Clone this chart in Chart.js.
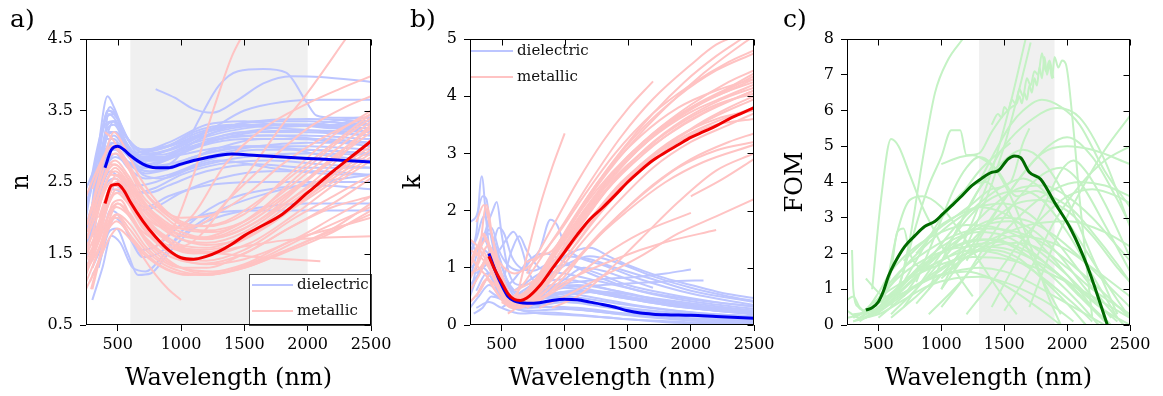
<!DOCTYPE html>
<html><head><meta charset="utf-8">
<script src="https://cdn.jsdelivr.net/npm/chart.js@4.4.1/dist/chart.umd.min.js"></script>
<style>
html,body{margin:0;padding:0;background:#fff;width:1163px;height:396px;overflow:hidden;position:relative}
canvas{position:absolute;top:0}
</style></head><body>
<canvas id="ca" width="400" height="396" style="left:0px;width:400px;height:396px"></canvas>
<canvas id="cb" width="390" height="396" style="left:390px;width:390px;height:396px"></canvas>
<canvas id="cc" width="383" height="396" style="left:780px;width:383px;height:396px"></canvas>
<script>
// ---------- tick values and labels ----------
const xTicks = [500, 1000, 1500, 2000, 2500];
const xTickLabels = ['500', '1000', '1500', '2000', '2500'];
const nTicks = [0.5, 1.5, 2.5, 3.5, 4.5];
const nTickLabels = ['0.5', '1.5', '2.5', '3.5', '4.5'];
const kTicks = [0, 1, 2, 3, 4, 5];
const kTickLabels = ['0', '1', '2', '3', '4', '5'];
const fomTicks = [0, 1, 2, 3, 4, 5, 6, 7, 8];
const fomTickLabels = ['0', '1', '2', '3', '4', '5', '6', '7', '8'];
const seriesNames = ['dielectric', 'metallic'];
const shadeA = [600, 2000];
const shadeC = [1300, 1900];

// ---------- panel a: refractive index n ----------
const nDielectric = [
 [[300,2.2],[350,3.0],[420,3.7],[470,3.55],[550,3.2],[650,2.95],[750,2.9],[900,2.95],[1100,3.1],[1400,3.25],[1800,3.3],[2200,3.25],[2500,3.2]],
 [[280,1.8],[350,2.8],[420,3.5],[480,3.45],[560,3.15],[700,2.85],[850,2.85],[1000,2.95],[1300,3.1],[1700,3.15],[2100,3.1],[2500,3.05]],
 [[250,2.0],[320,2.7],[400,3.3],[460,3.35],[550,3.1],[700,2.8],[850,2.8],[1100,3.0],[1500,3.2],[1900,3.2],[2500,3.15]],
 [[300,1.5],[370,2.6],[430,3.45],[490,3.35],[600,2.95],[750,2.8],[900,2.85],[1200,3.15],[1600,3.35],[2000,3.35],[2500,3.3]],
 [[250,1.4],[330,2.4],[410,3.1],[470,3.1],[560,2.9],[700,2.7],[850,2.7],[1100,2.85],[1500,3.0],[2000,2.95],[2500,2.9]],
 [[300,0.85],[380,1.3],[450,1.75],[520,1.65],[620,1.3],[720,1.25],[850,1.45],[1000,1.8],[1300,2.2],[1700,2.4],[2100,2.45],[2500,2.4]],
 [[250,1.5],[330,2.0],[420,2.5],[480,2.55],[600,2.35],[750,2.35],[900,2.45],[1200,2.65],[1600,2.75],[2000,2.7],[2500,2.7]],
 [[800,3.8],[950,3.68],[1100,3.52],[1250,3.47],[1450,3.65],[1650,3.88],[1870,3.98],[2100,3.97],[2500,3.9]],
 [[550,3.0],[700,2.78],[850,2.72],[1000,2.9],[1150,3.4],[1300,3.85],[1450,4.05],[1650,4.08],[1830,4.03],[1990,3.62],[2070,3.43],[2200,3.4],[2500,3.4]],
 [[300,2.1],[360,2.8],[420,3.3],[480,3.35],[580,3.0],[700,2.88],[850,2.92],[1000,3.0],[1250,3.25],[1500,3.5],[1800,3.62],[2100,3.65],[2500,3.65]],
 [[350,1.3],[420,1.8],[480,2.0],[560,1.85],[680,1.55],[800,1.6],[1000,1.9],[1200,2.05],[1600,2.1],[2000,2.1],[2500,2.1]],
 [[250,1.3],[320,1.6],[410,2.2],[480,2.45],[580,2.3],[720,2.15],[900,2.3],[1200,2.45],[1600,2.5],[2000,2.5],[2500,2.5]],
 [[270,1.7],[340,2.5],[420,3.25],[470,3.3],[560,3.05],[700,2.82],[900,2.85],[1200,3.05],[1600,3.2],[2000,3.22],[2500,3.2]],
 [[250,2.2],[330,2.6],[420,3.0],[480,3.05],[580,2.9],[720,2.72],[900,2.75],[1200,2.9],[1600,3.0],[2000,3.0],[2500,2.95]],
 [[300,1.3],[370,1.6],[440,2.1],[500,2.05],[600,1.7],[700,1.45],[820,1.5],[1000,1.75],[1300,2.1],[1700,2.35],[2100,2.5],[2500,2.6]],
 [[260,1.5],[330,2.3],[410,3.1],[470,3.35],[560,3.15],[700,2.9],[850,2.88],[1100,3.05],[1500,3.2],[1900,3.28],[2500,3.3]],
 [[400,2.8],[450,3.05],[520,3.0],[650,2.82],[800,2.8],[1000,2.88],[1300,2.98],[1700,3.0],[2100,2.88],[2500,2.8]],
 [[250,1.9],[330,2.35],[420,2.75],[480,2.85],[580,2.75],[720,2.62],[900,2.68],[1200,2.85],[1600,3.0],[2000,3.05],[2500,3.05]],
 [[300,1.2],[360,1.4],[430,1.8],[490,1.85],[580,1.5],[660,1.2],[760,1.22],[900,1.5],[1100,1.85],[1500,2.1],[2000,2.2],[2500,2.2]],
 [[250,2.4],[330,2.75],[420,3.15],[480,3.2],[570,3.0],[700,2.85],[900,2.95],[1200,3.2],[1600,3.35],[2000,3.38],[2500,3.35]],
 [[280,2.0],[350,2.6],[430,3.0],[500,2.95],[600,2.75],[750,2.65],[950,2.72],[1250,2.95],[1650,3.1],[2100,3.1],[2500,3.05]],
 [[260,1.6],[340,2.2],[440,2.65],[520,2.55],[650,2.35],[800,2.42],[1000,2.6],[1300,2.75],[1700,2.8],[2100,2.75],[2500,2.7]],
 [[300,2.5],[380,3.2],[440,3.55],[500,3.4],[600,3.05],[720,2.95],[900,3.05],[1200,3.3],[1500,3.35],[1800,3.3],[2200,3.3],[2350,3.35],[2500,3.3]],
 [[250,1.8],[320,2.3],[400,2.9],[470,3.15],[560,2.95],[700,2.6],[850,2.55],[1100,2.7],[1500,2.85],[2000,2.9],[2500,2.88]],
 [[500,2.6],[650,2.45],[800,2.5],[1000,2.65],[1300,2.8],[1700,2.7],[2100,2.62],[2500,2.6]],
 [[700,2.9],[900,3.0],[1100,3.2],[1400,3.3],[1800,3.25],[2200,3.2],[2500,3.15]],
 [[300,1.9],[370,2.7],[430,3.2],[490,3.2],[580,2.95],[700,2.8],[880,2.85],[1150,3.1],[1500,3.25],[1900,3.3],[2500,3.25]],
 [[260,1.7],[350,2.5],[430,3.0],[490,3.05],[590,2.85],[720,2.75],[900,2.82],[1200,3.05],[1550,3.15],[1950,3.15],[2500,3.1]],
 [[280,2.3],[360,3.1],[430,3.5],[490,3.4],[580,3.1],[700,2.95],[880,3.0],[1150,3.2],[1450,3.3],[1850,3.3],[2300,3.25],[2500,3.2]],
 [[250,1.6],[320,2.1],[410,2.7],[480,2.9],[580,2.7],[720,2.55],[900,2.6],[1200,2.8],[1600,2.95],[2000,2.95],[2500,2.9]],
 [[350,2.4],[420,2.9],[480,2.95],[570,2.8],[700,2.7],[880,2.8],[1150,3.0],[1500,3.1],[1900,3.1],[2500,3.0]],
 [[600,2.9],[800,2.95],[1000,3.05],[1300,3.25],[1700,3.3],[2100,3.3],[2500,3.25]],
 [[300,1.4],[380,1.9],[460,2.4],[530,2.35],[650,2.1],[800,2.15],[1000,2.35],[1300,2.55],[1700,2.65],[2100,2.65],[2500,2.6]],
 [[250,2.1],[330,2.9],[410,3.4],[470,3.45],[560,3.15],[700,2.95],[900,3.0],[1200,3.2],[1600,3.3],[2000,3.3],[2400,3.4],[2500,3.4]]
];
const nMetallic = [
 [[250,1.5],[320,1.9],[420,2.55],[480,2.7],[560,2.55],[700,2.15],[850,1.9],[1000,1.75],[1200,1.7],[1500,1.85],[1900,2.3],[2200,2.65],[2500,3.0]],
 [[250,1.2],[330,1.6],[420,2.15],[490,2.4],[580,2.3],[700,1.9],[850,1.6],[1000,1.45],[1200,1.4],[1500,1.55],[1900,2.0],[2200,2.3],[2500,2.6]],
 [[270,2.0],[340,2.4],[430,2.85],[490,2.9],[580,2.7],[700,2.3],[850,2.05],[1000,1.85],[1250,1.8],[1550,2.0],[1900,2.55],[2200,3.0],[2500,3.4]],
 [[290,1.0],[350,1.4],[430,1.95],[500,2.2],[600,2.05],[720,1.7],[850,1.48],[1000,1.3],[1200,1.22],[1500,1.3],[1900,1.6],[2200,1.85],[2500,2.2]],
 [[250,1.6],[330,1.85],[430,2.3],[490,2.5],[580,2.35],[700,2.0],[850,1.78],[1000,1.62],[1200,1.58],[1500,1.75],[1900,2.15],[2200,2.5],[2500,2.85]],
 [[300,1.0],[370,1.5],[440,1.95],[500,2.0],[600,1.75],[700,1.45],[800,1.2],[900,1.0],[1000,0.85]],
 [[260,1.9],[330,2.4],[420,3.0],[470,3.2],[550,3.0],[680,2.55],[850,2.15],[1000,1.95],[1200,1.88],[1500,2.05],[1850,2.6],[2200,3.15],[2500,3.5]],
 [[250,1.4],[330,1.7],[430,2.2],[490,2.35],[580,2.2],[700,1.85],[850,1.58],[1000,1.42],[1200,1.35],[1500,1.42],[1900,1.7],[2200,2.0],[2500,2.3]],
 [[250,1.3],[330,1.6],[420,2.0],[490,2.15],[580,2.05],[700,1.8],[850,1.65],[1000,1.55],[1300,1.5],[1600,1.45],[1850,1.42],[2100,1.39]],
 [[800,1.6],[950,1.9],[1100,2.6],[1200,3.2],[1300,3.75],[1400,4.25],[1500,4.6]],
 [[350,2.2],[450,2.6],[520,2.55],[650,2.15],[800,1.85],[1000,1.6],[1150,1.75],[1350,2.2],[1600,2.8],[1800,3.3],[2000,3.75],[2300,4.5],[2400,4.75]],
 [[350,2.0],[450,2.45],[520,2.5],[650,2.15],[800,1.9],[950,1.85],[1100,2.05],[1350,2.75],[1650,3.25],[2000,3.6],[2250,3.8],[2500,3.98]],
 [[260,1.5],[330,1.8],[430,2.4],[490,2.6],[580,2.45],[700,2.05],[850,1.75],[1000,1.58],[1200,1.52],[1500,1.6],[1800,1.68],[2100,1.72],[2500,1.74]],
 [[300,1.3],[380,1.7],[460,2.2],[520,2.25],[620,1.95],[750,1.6],[900,1.38],[1050,1.28],[1250,1.25],[1500,1.35],[1900,1.7],[2200,1.85],[2500,2.0]],
 [[250,2.3],[320,2.6],[420,2.95],[480,3.0],[570,2.8],[700,2.4],[850,2.1],[1000,1.9],[1200,1.82],[1500,1.95],[1800,2.3],[2200,2.8],[2500,3.2]],
 [[280,1.1],[360,1.45],[440,1.9],[500,2.05],[600,1.9],[720,1.6],[850,1.4],[1000,1.3],[1200,1.3],[1500,1.5],[1900,1.9],[2200,2.15],[2500,2.3]],
 [[250,1.7],[320,2.0],[420,2.45],[480,2.55],[580,2.4],[700,2.1],[850,1.85],[1000,1.7],[1200,1.65],[1500,1.8],[1900,2.3],[2200,2.75],[2500,3.3]],
 [[300,1.5],[380,1.9],[450,2.3],[520,2.35],[620,2.1],[750,1.8],[900,1.6],[1100,1.5],[1300,1.55],[1600,1.85],[1900,2.25],[2200,2.6],[2500,2.95]],
 [[260,1.8],[330,2.2],[420,2.7],[480,2.8],[580,2.6],[700,2.25],[850,1.95],[1000,1.8],[1200,1.72],[1500,1.9],[1900,2.4],[2200,2.85],[2500,3.25]],
 [[250,1.25],[330,1.5],[430,1.85],[490,1.95],[600,1.75],[720,1.5],[850,1.32],[1000,1.22],[1200,1.2],[1500,1.32],[1900,1.6],[2200,1.82],[2500,2.05]],
 [[600,2.4],[800,2.05],[1000,1.85],[1200,1.95],[1400,2.3],[1700,2.8],[2000,3.25],[2300,3.55],[2500,3.7]],
 [[300,1.6],[400,2.15],[470,2.45],[540,2.4],[650,2.1],[800,1.8],[950,1.62],[1150,1.55],[1400,1.62],[1700,1.9],[2000,2.3],[2300,2.75],[2500,3.1]],
 [[280,1.35],[360,1.7],[440,2.1],[500,2.2],[600,2.0],[720,1.72],[850,1.52],[1000,1.4],[1200,1.36],[1500,1.5],[1800,1.8],[2200,2.2],[2500,2.55]],
 [[400,3.2],[460,3.1],[540,2.85],[650,2.5],[800,2.2],[1000,2.0],[1200,2.02],[1500,2.3],[1800,2.75],[2100,3.1],[2500,3.45]],
 [[250,1.1],[320,1.4],[420,1.9],[490,2.05],[590,1.85],[720,1.55],[860,1.35],[1000,1.25],[1200,1.2],[1500,1.3],[1800,1.5],[2200,1.8],[2500,2.1]],
 [[250,1.9],[320,2.2],[420,2.65],[480,2.75],[580,2.55],[700,2.2],[850,1.92],[1000,1.75],[1250,1.72],[1600,1.95],[1950,2.45],[2250,2.9],[2500,3.3]],
 [[270,1.4],[340,1.75],[430,2.3],[490,2.5],[590,2.3],[720,1.95],[870,1.7],[1020,1.55],[1250,1.5],[1550,1.65],[1900,2.05],[2200,2.45],[2500,2.8]],
 [[300,2.0],[380,2.5],[450,2.75],[520,2.7],[630,2.4],[780,2.05],[950,1.8],[1150,1.72],[1450,1.9],[1800,2.35],[2150,2.85],[2500,3.35]],
 [[250,1.0],[330,1.3],[430,1.7],[500,1.85],[600,1.7],[730,1.45],[880,1.28],[1050,1.2],[1300,1.22],[1600,1.4],[2000,1.75],[2500,2.15]],
 [[260,1.7],[330,2.1],[420,2.55],[480,2.65],[570,2.5],[700,2.15],[850,1.88],[1000,1.7],[1200,1.62],[1500,1.72],[1850,2.1],[2200,2.55],[2500,2.9]],
 [[300,2.4],[380,2.8],[450,3.0],[520,2.9],[620,2.6],[760,2.25],[920,2.0],[1100,1.88],[1350,1.95],[1700,2.35],[2100,2.9],[2500,3.45]]
];
const nDielectricMean = [[400,2.7],[450,2.95],[500,3.0],[550,2.95],[600,2.87],[700,2.75],[800,2.7],[900,2.7],[1000,2.75],[1100,2.8],[1200,2.84],[1400,2.89],[1600,2.87],[1800,2.85],[2000,2.83],[2200,2.81],[2400,2.79],[2500,2.78]];
const nMetallicMean = [[400,2.2],[450,2.45],[500,2.47],[550,2.38],[600,2.22],[700,1.95],[800,1.73],[900,1.55],[1000,1.44],[1100,1.42],[1200,1.46],[1300,1.53],[1400,1.63],[1500,1.75],[1600,1.85],[1800,2.05],[2000,2.35],[2200,2.65],[2400,2.93],[2500,3.07]];

// ---------- panel b: extinction coefficient k ----------
const kDielectric = [
 [[250,1.2],[300,1.6],[343,2.6],[380,1.8],[420,1.0],[480,0.6],[550,0.45],[650,0.4],[800,0.45],[1000,0.5],[1200,0.45],[1500,0.35],[2000,0.22],[2500,0.15]],
 [[250,1.8],[300,1.9],[350,2.25],[380,2.2],[420,1.5],[500,0.9],[580,0.6],[700,0.5],[900,0.55],[1100,0.6],[1400,0.5],[1800,0.35],[2200,0.25],[2500,0.2]],
 [[260,0.6],[320,1.2],[380,1.7],[430,2.0],[462,2.15],[500,1.6],[560,0.9],[650,0.7],[800,0.75],[1000,0.8],[1300,0.65],[1700,0.45],[2100,0.32],[2500,0.25]],
 [[300,0.9],[400,1.1],[480,1.3],[540,1.5],[594,1.63],[650,1.4],[720,0.9],[800,0.7],[1000,0.65],[1300,0.55],[1700,0.4],[2100,0.3],[2500,0.22]],
 [[500,0.6],[600,0.8],[700,1.1],[800,1.3],[887,1.84],[940,1.75],[1000,1.4],[1100,1.2],[1300,1.05],[1600,0.8],[2000,0.55],[2500,0.35]],
 [[600,0.5],[800,0.8],[1000,1.2],[1200,1.35],[1350,1.2],[1500,1.05],[1750,0.85],[2000,0.7],[2250,0.56],[2500,0.47]],
 [[700,0.6],[900,0.7],[1100,0.75],[1300,0.8],[1570,0.84],[1800,0.9],[2000,0.97]],
 [[600,0.45],[800,0.55],[1000,0.65],[1300,0.7],[1600,0.74],[1900,0.77],[2100,0.78]],
 [[250,0.3],[320,0.5],[400,0.7],[480,0.55],[560,0.35],[700,0.3],[900,0.32],[1100,0.3],[1500,0.2],[2000,0.12],[2500,0.08]],
 [[250,1.5],[300,1.3],[360,1.5],[420,1.2],[500,0.7],[600,0.45],[800,0.4],[1000,0.42],[1300,0.35],[1700,0.22],[2100,0.15],[2500,0.1]],
 [[260,0.9],[330,1.4],[400,1.6],[460,1.3],[540,0.8],[650,0.55],[800,0.6],[1000,0.7],[1250,0.6],[1600,0.45],[2000,0.3],[2500,0.2]],
 [[300,0.5],[380,0.8],[450,1.0],[520,0.8],[600,0.5],[750,0.35],[950,0.3],[1200,0.25],[1600,0.15],[2000,0.08],[2500,0.04]],
 [[250,1.0],[310,1.1],[370,1.3],[430,1.1],[500,0.8],[580,1.3],[640,1.55],[700,1.3],[800,1.0],[1000,0.9],[1300,0.75],[1700,0.55],[2100,0.42],[2500,0.33]],
 [[280,0.2],[350,0.3],[420,0.5],[500,0.45],[600,0.3],[800,0.2],[1000,0.18],[1400,0.12],[1800,0.05],[2200,0.02],[2500,0.01]],
 [[400,1.0],[480,1.7],[520,1.6],[580,1.2],[650,1.0],[750,0.95],[850,1.05],[1000,1.2],[1200,1.15],[1400,1.0],[1700,0.8],[2000,0.6],[2500,0.4]],
 [[500,0.3],[700,0.6],[900,0.9],[1050,1.1],[1200,1.2],[1400,1.1],[1700,0.85],[2000,0.65],[2300,0.5],[2500,0.42]],
 [[250,0.7],[320,0.9],[390,1.2],[440,1.0],[520,0.6],[620,0.4],[800,0.38],[1000,0.4],[1300,0.32],[1700,0.2],[2100,0.14],[2500,0.1]],
 [[600,0.6],[700,0.75],[800,0.9],[900,1.0],[1000,1.05],[1200,0.95],[1500,0.7],[1800,0.55],[2200,0.4],[2500,0.32]],
 [[250,1.3],[300,1.5],[360,1.9],[420,1.6],[480,1.2],[560,0.7],[650,0.5],[800,0.5],[1000,0.55],[1300,0.45],[1700,0.3],[2100,0.2],[2500,0.15]],
 [[700,0.3],[900,0.45],[1100,0.55],[1300,0.58],[1600,0.5],[2000,0.38],[2500,0.25]],
 [[300,0.3],[400,0.4],[500,0.3],[650,0.2],[850,0.22],[1100,0.18],[1500,0.1],[2000,0.05],[2500,0.02]],
 [[800,0.5],[1000,0.8],[1150,1.0],[1300,0.95],[1500,0.8],[1700,0.65]],
 [[350,1.5],[420,1.7],[480,1.3],[550,1.05],[650,0.95],[760,1.2],[850,1.25],[1000,1.1],[1200,0.9],[1500,0.65],[1900,0.45],[2500,0.28]],
 [[400,0.6],[500,0.45],[600,0.35],[800,0.35],[1000,0.4],[1300,0.35],[1700,0.25],[2100,0.18],[2500,0.13]],
 [[300,0.6],[380,0.9],[460,0.7],[560,0.45],[700,0.45],[900,0.55],[1100,0.6],[1400,0.5],[1800,0.35],[2200,0.25],[2500,0.18]],
 [[500,0.5],[700,0.5],[900,0.65],[1100,0.7],[1400,0.6],[1800,0.42],[2200,0.3],[2500,0.23]],
 [[600,0.3],[800,0.45],[1000,0.55],[1200,0.6],[1500,0.5],[1900,0.35],[2500,0.2]],
 [[250,0.5],[300,0.8],[350,1.0],[400,0.9],[480,0.55],[580,0.3],[750,0.25],[1000,0.28],[1400,0.2],[1900,0.12],[2500,0.06]]
];
const kMetallic = [
 [[250,1.0],[300,1.3],[360,1.6],[420,1.2],[500,0.7],[600,0.45],[700,0.55],[800,0.85],[1000,1.5],[1200,2.1],[1500,2.8],[1800,3.3],[2100,3.7],[2500,4.1]],
 [[250,0.8],[320,1.2],[380,2.1],[430,1.5],[500,0.8],[600,0.5],[700,0.6],[800,0.9],[1000,1.6],[1250,2.35],[1500,2.95],[1800,3.5],[2100,3.9],[2500,4.35]],
 [[260,1.3],[330,1.2],[400,1.0],[480,0.6],[560,0.35],[650,0.3],[750,0.45],[900,0.8],[1100,1.35],[1400,2.1],[1700,2.75],[2000,3.2],[2300,3.5],[2500,3.7]],
 [[600,0.3],[700,1.2],[800,2.05],[900,2.75],[1000,3.35]],
 [[700,0.9],[900,1.7],[1100,2.5],[1300,3.2],[1500,3.78],[1700,4.26]],
 [[600,0.3],[800,0.45],[1000,0.75],[1400,1.15],[1800,1.45],[2200,1.66]],
 [[700,0.3],[1000,0.7],[1300,1.2],[1600,1.6],[2000,1.96]],
 [[2000,2.25],[2250,2.55],[2500,2.9]],
 [[800,0.3],[1000,0.5],[1300,0.85],[1600,1.2],[1900,1.6],[2200,1.9],[2500,2.2]],
 [[250,1.1],[320,1.4],[400,1.1],[500,0.55],[600,0.35],[700,0.5],[850,1.0],[1000,1.55],[1200,2.25],[1500,3.1],[1800,3.8],[2100,4.4],[2400,4.9],[2500,5.05]],
 [[300,0.5],[380,0.8],[450,0.6],[550,0.35],[650,0.4],[780,0.8],[950,1.35],[1150,2.0],[1400,2.7],[1700,3.35],[2000,3.85],[2300,4.25],[2500,4.45]],
 [[250,0.4],[330,0.6],[420,0.9],[520,0.55],[620,0.3],[750,0.4],[900,0.7],[1100,1.15],[1400,1.85],[1700,2.45],[2000,2.9],[2300,3.2],[2500,3.35]],
 [[450,1.2],[520,1.0],[600,0.9],[700,1.0],[800,1.2],[950,1.6],[1150,2.25],[1400,3.0],[1700,3.7],[2000,4.2],[2300,4.6],[2500,4.8]],
 [[250,1.5],[300,1.4],[360,1.2],[430,0.9],[520,0.55],[620,0.42],[720,0.6],[850,1.05],[1050,1.8],[1300,2.6],[1600,3.3],[1900,3.8],[2200,4.1],[2500,4.3]],
 [[300,1.0],[400,1.4],[470,1.0],[560,0.5],[660,0.38],[760,0.5],[900,0.85],[1100,1.45],[1350,2.2],[1650,2.85],[1950,3.3],[2250,3.6],[2500,3.8]],
 [[600,0.6],[700,0.7],[800,0.85],[1000,1.3],[1200,1.85],[1450,2.5],[1750,3.05],[2050,3.5],[2300,3.8],[2500,4.0]],
 [[500,0.4],[600,0.3],[700,0.35],[850,0.6],[1050,1.05],[1300,1.65],[1600,2.25],[1900,2.75],[2200,3.05],[2500,3.2]],
 [[250,0.9],[330,1.0],[400,1.2],[470,0.95],[550,0.5],[650,0.35],[760,0.55],[900,1.0],[1100,1.7],[1350,2.5],[1650,3.2],[1950,3.7],[2250,4.05],[2500,4.25]],
 [[700,1.1],[800,1.2],[900,1.3],[1000,1.6],[1200,2.3],[1450,3.05],[1700,3.7],[1950,4.25],[2200,4.7],[2400,5.0]],
 [[900,0.3],[1100,0.5],[1300,0.85],[1600,1.5],[1900,2.15],[2200,2.7],[2500,3.0]],
 [[550,0.2],[650,0.35],[800,0.7],[1000,1.25],[1250,1.95],[1550,2.65],[1850,3.2],[2150,3.6],[2500,3.95]],
 [[300,1.8],[360,2.1],[420,1.6],[500,0.9],[580,0.5],[680,0.45],[800,0.75],[950,1.2],[1150,1.9],[1400,2.65],[1700,3.3],[2000,3.8],[2300,4.15],[2500,4.4]],
 [[400,0.8],[500,0.6],[600,0.4],[720,0.5],[880,0.95],[1080,1.6],[1330,2.35],[1630,3.0],[1930,3.5],[2230,3.85],[2500,4.1]],
 [[800,0.4],[1000,0.85],[1200,1.4],[1500,2.0],[1800,2.5],[2100,2.85],[2500,3.15]],
 [[600,0.5],[700,0.8],[850,1.3],[1000,1.8],[1200,2.5],[1450,3.3],[1700,3.95],[2000,4.55],[2200,4.9],[2350,5.05]],
 [[300,1.2],[380,1.5],[450,1.0],[540,0.55],[640,0.4],[750,0.55],[900,1.0],[1100,1.65],[1350,2.4],[1650,3.1],[1950,3.6],[2250,3.95],[2500,4.15]],
 [[250,0.6],[330,0.9],[420,1.3],[500,0.85],[600,0.45],[700,0.5],[850,0.9],[1050,1.55],[1300,2.3],[1600,3.0],[1900,3.5],[2200,3.85],[2500,4.05]],
 [[350,1.6],[420,1.3],[500,0.8],[580,0.5],[680,0.5],[800,0.8],[950,1.3],[1150,1.95],[1400,2.7],[1700,3.35],[2000,3.8],[2300,4.1],[2500,4.3]],
 [[500,0.5],[600,0.4],[700,0.5],[850,0.85],[1050,1.4],[1300,2.1],[1600,2.8],[1900,3.3],[2200,3.6],[2500,3.75]],
 [[400,1.0],[480,0.75],[560,0.45],[660,0.4],[780,0.65],[930,1.15],[1130,1.85],[1380,2.6],[1680,3.25],[1980,3.7],[2280,4.0],[2500,4.2]],
 [[600,0.4],[700,0.6],[850,1.05],[1050,1.75],[1300,2.6],[1600,3.4],[1900,4.0],[2200,4.45],[2500,4.75]],
 [[250,1.2],[320,1.0],[400,0.8],[480,0.5],[580,0.3],[700,0.4],[850,0.75],[1050,1.3],[1300,2.0],[1600,2.7],[1900,3.2],[2200,3.5],[2500,3.6]]
];
const kDielectricMean = [[400,1.25],[450,0.95],[500,0.7],[550,0.5],[600,0.42],[700,0.38],[800,0.39],[900,0.43],[1000,0.45],[1100,0.44],[1200,0.4],[1300,0.36],[1400,0.31],[1500,0.25],[1600,0.21],[1700,0.19],[1800,0.18],[2000,0.17],[2200,0.15],[2500,0.12]];
const kMetallicMean = [[400,1.2],[450,0.95],[500,0.75],[550,0.55],[600,0.45],[650,0.43],[700,0.47],[800,0.68],[900,0.98],[1000,1.28],[1100,1.58],[1200,1.85],[1300,2.05],[1400,2.27],[1500,2.5],[1600,2.7],[1700,2.88],[1800,3.02],[1900,3.15],[2000,3.28],[2100,3.38],[2200,3.48],[2300,3.6],[2400,3.7],[2500,3.8]];

// ---------- panel c: figure of merit ----------
const fomLines = [
 [[450,1.0],[520,3.5],[600,5.2],[660,5.0],[750,4.2],[850,3.3],[950,2.6],[1050,1.9],[1150,1.3],[1250,0.8]],
 [[650,0.8],[750,2.4],[850,4.6],[950,6.5],[1050,7.4],[1170,8.0]],
 [[600,0.5],[700,1.5],[800,2.8],[900,3.9],[1000,4.7],[1080,5.45],[1150,5.45],[1200,4.75],[1300,4.8],[1400,5.4],[1500,5.9],[1560,6.1],[1600,6.2],[1620,6.4],[1640,6.2],[1660,6.5],[1680,6.3],[1700,6.7],[1720,6.5],[1740,6.9],[1760,6.7],[1780,7.2],[1800,6.9],[1820,7.5],[1840,7.0],[1860,7.3],[1880,6.9],[1900,7.5],[1930,7.2],[1960,7.4],[1990,7.3],[2050,5.5],[2100,3.5],[2150,1.8],[2200,0.2]],
 [[1400,5.6],[1450,5.9],[1480,5.8],[1500,6.1],[1530,6.0],[1560,6.3],[1590,6.2],[1620,6.6],[1650,6.4],[1680,6.9],[1710,6.7],[1740,7.1],[1770,7.0],[1800,7.6],[1830,7.1],[1860,7.4],[1890,6.9]],
 [[1100,2.5],[1300,3.8],[1500,5.0],[1700,5.7],[1920,6.07],[2100,5.8],[2300,4.6],[2500,2.75]],
 [[1700,0.5],[1900,2.3],[2100,3.7],[2300,4.9],[2500,5.85]],
 [[1000,1.0],[1300,2.5],[1600,4.0],[1850,5.0],[2000,5.25],[2200,4.7],[2400,3.5],[2500,2.8]],
 [[1200,1.8],[1500,3.5],[1800,4.8],[2000,5.0],[2200,4.9],[2500,4.5]],
 [[1000,1.0],[1200,2.5],[1400,4.3],[1550,6.2],[1670,8.0]],
 [[1100,1.5],[1300,3.0],[1500,5.0],[1620,6.6],[1710,7.9]],
 [[500,0.3],[600,1.5],[650,2.6],[700,2.7],[750,2.0],[850,1.6],[1000,1.8],[1200,2.2],[1400,2.3],[1500,2.35]],
 [[550,0.8],[650,2.6],[750,3.5],[850,3.6],[1000,3.3],[1150,2.6],[1300,1.8],[1450,1.0],[1600,0.3]],
 [[800,1.2],[950,2.5],[1100,3.8],[1200,4.4],[1300,4.7],[1400,4.5],[1550,3.6],[1700,2.3],[1850,0.8],[1950,0]],
 [[900,1.0],[1100,2.5],[1300,3.8],[1500,4.6],[1650,4.9],[1800,4.6],[2000,3.5],[2200,1.9],[2400,0.3]],
 [[700,0.5],[900,1.5],[1100,2.5],[1300,3.3],[1500,3.7],[1650,3.75],[1800,3.5],[2000,2.6],[2200,1.4],[2400,0.2]],
 [[300,0.2],[400,0.4],[500,0.9],[600,1.5],[800,2.2],[1000,2.6],[1200,2.8],[1400,2.75],[1600,2.5],[1800,2.0],[2000,1.4],[2200,0.7],[2400,0.1]],
 [[300,0.1],[400,0.3],[500,0.7],[650,1.3],[850,1.8],[1050,2.1],[1300,2.2],[1550,2.1],[1800,1.7],[2050,1.1],[2300,0.4],[2500,0]],
 [[350,0.2],[450,0.5],[550,1.0],[700,1.6],[900,2.1],[1100,2.5],[1350,2.7],[1600,2.6],[1850,2.2],[2100,1.5],[2350,0.7],[2500,0.2]],
 [[250,0.2],[350,0.3],[450,0.6],[600,1.0],[800,1.4],[1000,1.7],[1250,1.9],[1500,1.85],[1750,1.6],[2000,1.2],[2250,0.7],[2500,0.2]],
 [[400,0.3],[550,0.9],[700,1.6],[900,2.3],[1100,2.9],[1300,3.3],[1500,3.4],[1700,3.1],[1900,2.4],[2100,1.5],[2300,0.6],[2450,0]],
 [[500,0.4],[700,1.0],[900,1.7],[1100,2.3],[1300,2.8],[1500,3.0],[1700,2.9],[1900,2.5],[2100,1.9],[2300,1.2],[2500,0.5]],
 [[600,0.3],[800,1.0],[1000,1.8],[1200,2.6],[1400,3.3],[1600,3.8],[1800,3.9],[2000,3.6],[2200,3.0],[2400,2.2],[2500,1.8]],
 [[900,0.3],[1100,1.0],[1300,1.8],[1500,2.6],[1700,3.3],[1900,3.8],[2100,4.0],[2300,3.9],[2500,3.6]],
 [[1200,0.3],[1400,1.2],[1600,2.2],[1800,3.0],[2000,3.6],[2200,3.8],[2400,3.6],[2500,3.4]],
 [[300,0.1],[400,0.2],[500,0.4],[700,0.9],[900,1.3],[1100,1.5],[1300,1.6],[1500,1.5],[1700,1.2],[1900,0.8],[2100,0.4],[2300,0]],
 [[250,0.7],[300,0.8],[350,0.5],[450,0.3],[600,0.6],[800,1.1],[1000,1.4],[1200,1.5],[1400,1.3],[1600,0.9],[1800,0.4],[1950,0]],
 [[290,2.1],[300,1.0],[340,0.5],[400,0.4],[500,0.6],[700,1.2],[900,1.9],[1100,2.4],[1300,2.6],[1500,2.5],[1700,2.1],[1900,1.5],[2100,0.8],[2300,0.1]],
 [[400,1.3],[450,1.1],[550,0.8],[700,0.9],[900,1.3],[1150,1.9],[1400,2.4],[1700,2.8],[2000,2.9],[2300,2.6],[2500,2.2]],
 [[1000,4.5],[1150,4.7],[1250,4.75],[1350,4.6],[1450,4.3],[1600,3.6],[1750,3.75],[1900,3.55],[2050,3.2],[2200,2.6],[2400,1.7],[2500,1.2]],
 [[800,2.0],[950,2.6],[1100,3.0],[1250,3.4],[1400,3.8],[1550,4.0],[1650,5.1],[1700,5.5]],
 [[700,1.8],[850,2.3],[1000,2.8],[1150,3.1],[1300,3.3],[1450,3.2],[1600,2.9],[1800,2.2],[2000,1.4],[2200,0.5]],
 [[1300,4.0],[1450,5.0],[1550,5.6],[1650,6.0],[1800,6.3],[1950,6.1],[2100,5.6],[2300,4.3],[2500,3.3]],
 [[1500,0.4],[1700,1.5],[1900,2.9],[2100,3.9],[2300,4.6],[2500,5.0]],
 [[1000,3.0],[1150,3.6],[1300,4.3],[1450,4.8],[1550,5.1]],
 [[600,0.6],[800,1.8],[1000,3.0],[1200,3.8],[1350,4.0],[1500,3.4],[1650,2.4],[1800,1.3],[1950,0.3]],
 [[500,0.2],[600,0.5],[800,1.1],[1000,1.6],[1200,2.0],[1400,2.1],[1600,1.9],[1800,1.3],[2000,0.6],[2150,0]],
 [[1000,1.3],[1200,1.9],[1400,2.3],[1600,2.5],[1800,2.4],[2000,2.1],[2200,1.6],[2500,0.8]],
 [[1000,0.5],[1200,1.4],[1400,2.5],[1600,3.5],[1800,4.2],[1950,4.4],[2100,4.0],[2300,2.8],[2500,1.5]],
 [[1400,0.5],[1600,1.8],[1800,3.2],[1950,4.3],[2050,4.6],[2150,4.3],[2300,3.4],[2500,1.9]],
 [[350,0.1],[500,0.5],[700,1.2],[900,1.8],[1100,2.2],[1300,2.4],[1500,2.3],[1700,1.9],[1900,1.3],[2100,0.6],[2250,0]],
 [[450,0.3],[600,0.8],[800,1.5],[1000,2.0],[1200,2.3],[1400,2.4],[1600,2.2],[1800,1.8],[2000,1.2],[2200,0.5],[2350,0]],
 [[400,0.2],[550,0.6],[750,1.3],[950,1.9],[1150,2.4],[1350,2.8],[1550,2.9],[1750,2.6],[1950,1.9],[2150,1.0],[2350,0.2]],
 [[600,0.2],[800,0.8],[1000,1.4],[1200,1.9],[1400,2.2],[1600,2.3],[1800,2.1],[2000,1.6],[2200,1.0],[2500,0.3]],
 [[300,0.3],[450,0.4],[650,0.9],[850,1.5],[1050,1.9],[1250,2.1],[1450,2.0],[1650,1.7],[1850,1.2],[2050,0.6],[2200,0.1]],
 [[700,0.8],[900,1.8],[1100,2.7],[1300,3.4],[1500,3.9],[1650,4.1],[1800,3.8],[2000,2.9],[2200,1.8],[2400,0.7],[2500,0.2]],
 [[800,0.6],[1000,1.4],[1200,2.2],[1400,2.9],[1600,3.4],[1800,3.5],[2000,3.2],[2200,2.5],[2400,1.6],[2500,1.2]],
 [[250,0.4],[350,0.2],[500,0.3],[700,0.7],[900,1.1],[1100,1.3],[1300,1.35],[1500,1.2],[1700,0.9],[1900,0.5],[2050,0.1]]
];
const fomMean = [[400,0.42],[450,0.48],[500,0.65],[540,0.95],[580,1.37],[630,1.74],[710,2.2],[790,2.5],[870,2.76],[950,2.9],[1010,3.1],[1080,3.33],[1160,3.6],[1240,3.89],[1320,4.1],[1400,4.27],[1450,4.31],[1530,4.64],[1580,4.73],[1630,4.68],[1700,4.27],[1790,4.08],[1900,3.43],[2030,2.68],[2160,1.65],[2320,0]];

// ---------- styling ----------
const FONT = 'DejaVu Serif';
const C = {
  faintBlue: '#bcc5ff', faintRed: '#ffc3c3', faintGreen: '#c4f2c4',
  blue: '#0000f0', red: '#f00000', green: '#006a00', shade: '#f0f0f0'
};
const FAINT_W = 2;

function lineDS(pairs, color, width, order) {
  return {
    data: pairs.map(([x, y]) => ({ x, y })),
    borderColor: color, borderWidth: width, pointRadius: 0, pointHoverRadius: 0,
    fill: false, cubicInterpolationMode: 'monotone', order
  };
}

const framePlugin = {
  id: 'frame',
  beforeDatasetsDraw(chart, args, o) {
    const { ctx, chartArea: a, scales: { x } } = chart;
    if (o.shade) {
      const x0 = x.getPixelForValue(o.shade[0]), x1 = x.getPixelForValue(o.shade[1]);
      ctx.save(); ctx.fillStyle = C.shade;
      ctx.fillRect(x0, a.top, x1 - x0, a.bottom - a.top); ctx.restore();
    }
  },
  afterDatasetsDraw(chart, args, o) {
    const { ctx, chartArea: a, scales: { x, y } } = chart;
    ctx.save();
    if (o.legend) {
      const L = o.legend;
      const bx = L.pos === 'br' ? a.right - L.w : a.left;
      const by = L.pos === 'br' ? a.bottom - L.h : a.top;
      ctx.fillStyle = '#fff';
      ctx.fillRect(bx, by, L.w, L.h);
      if (L.border) {
        ctx.strokeStyle = '#444'; ctx.lineWidth = 1;
        ctx.strokeRect(Math.round(bx) + 0.5, Math.round(by) + 0.5, L.w, L.h);
      }
      const cols = [C.faintBlue, C.faintRed];
      ctx.font = '15px "' + FONT + '"'; ctx.textBaseline = 'middle'; ctx.textAlign = 'left';
      seriesNames.forEach((name, i) => {
        const yy = by + L.rows[i];
        ctx.strokeStyle = cols[i]; ctx.lineWidth = 2;
        ctx.beginPath(); ctx.moveTo(bx + L.l0, yy); ctx.lineTo(bx + L.l1, yy); ctx.stroke();
        ctx.fillStyle = '#111'; ctx.fillText(name, bx + L.tx, yy);
      });
    }
    ctx.strokeStyle = '#000'; ctx.lineWidth = 1;
    const l = Math.round(a.left) + 0.5, t = Math.round(a.top) + 0.5;
    const r = Math.round(a.right) - 0.5, b = Math.round(a.bottom) - 0.5;
    ctx.strokeRect(l, t, r - l, b - t);
    ctx.beginPath();
    xTicks.forEach(v => {
      const px = Math.round(x.getPixelForValue(v)) + 0.5;
      ctx.moveTo(px, t); ctx.lineTo(px, t + 6);
    });
    y.ticks.forEach(tk => {
      const py = Math.round(y.getPixelForValue(tk.value)) + 0.5;
      ctx.moveTo(r, py); ctx.lineTo(r - 6, py);
    });
    ctx.stroke();
    ctx.fillStyle = '#000'; ctx.font = '25px "' + FONT + '"';
    ctx.textBaseline = 'alphabetic'; ctx.textAlign = 'left';
    ctx.fillText(o.label, o.labelX, 27);
    ctx.restore();
  }
};

function makePanel(id, p) {
  new Chart(document.getElementById(id), {
    type: 'line',
    data: { datasets: p.datasets },
    plugins: [framePlugin],
    options: {
      responsive: false, animation: false, events: [],
      layout: { padding: { left: 0, top: 39, right: p.padRight, bottom: 0 } },
      plugins: {
        legend: { display: false }, tooltip: { enabled: false },
        frame: { shade: p.shade, legend: p.legend, label: p.label, labelX: p.labelX }
      },
      scales: {
        x: {
          type: 'linear', min: 250, max: 2500,
          afterBuildTicks: s => { s.ticks = xTicks.map(v => ({ value: v })); },
          afterFit: s => { s.height = 71; },
          grid: { display: true, drawOnChartArea: false, drawTicks: true, tickLength: 6, color: '#000', lineWidth: 1 },
          border: { display: false },
          ticks: { color: '#000', font: { family: FONT, size: 16 }, padding: 4, maxRotation: 0, autoSkip: false,
                   callback: (v, i) => xTickLabels[i] },
          title: { display: true, text: 'Wavelength (nm)', color: '#000', font: { family: FONT, size: 24 }, padding: { top: 0, bottom: 3 } }
        },
        y: {
          type: 'linear', min: p.yMin, max: p.yMax,
          afterBuildTicks: s => { s.ticks = p.yTicks.map(v => ({ value: v })); },
          afterFit: s => { s.width = p.yWidth; },
          grid: { display: true, drawOnChartArea: false, drawTicks: true, tickLength: 6, color: '#000', lineWidth: 1 },
          border: { display: false },
          ticks: { color: '#000', font: { family: FONT, size: 16 }, padding: 7, autoSkip: false,
                   callback: (v, i) => p.yTickLabels[i] },
          title: { display: true, text: p.yTitle, color: '#000', font: { family: FONT, size: 24 }, padding: { top: p.yTitlePad, bottom: 0 } }
        }
      }
    }
  });
}

makePanel('ca', {
  datasets: [
    lineDS(nMetallicMean, C.red, 3, 0),
    lineDS(nDielectricMean, C.blue, 3, 1),
    ...nMetallic.map(s => lineDS(s, C.faintRed, FAINT_W, 2)),
    ...nDielectric.map(s => lineDS(s, C.faintBlue, FAINT_W, 3))
  ],
  yMin: 0.5, yMax: 4.5, yTicks: nTicks, yTickLabels: nTickLabels, yTitle: 'n',
  yWidth: 86, padRight: 29, yTitlePad: 7, shade: shadeA,
  legend: { pos: 'br', w: 122, h: 51, border: true, rows: [11, 37], l0: 3, l1: 44, tx: 48 },
  label: 'a)', labelX: 10
});
makePanel('cb', {
  datasets: [
    lineDS(kMetallicMean, C.red, 3, 0),
    lineDS(kDielectricMean, C.blue, 3, 1),
    ...kMetallic.map(s => lineDS(s, C.faintRed, FAINT_W, 2)),
    ...kDielectric.map(s => lineDS(s, C.faintBlue, FAINT_W, 3))
  ],
  yMin: 0, yMax: 5, yTicks: kTicks, yTickLabels: kTickLabels, yTitle: 'k',
  yWidth: 80, padRight: 26, yTitlePad: 9, shade: null,
  legend: { pos: 'tl', w: 121, h: 50, border: false, rows: [12, 38], l0: 1, l1: 43, tx: 47 },
  label: 'b)', labelX: 20
});
makePanel('cc', {
  datasets: [
    lineDS(fomMean, C.green, 3, 0),
    ...fomLines.map(s => lineDS(s, C.faintGreen, FAINT_W, 1))
  ],
  yMin: 0, yMax: 8, yTicks: fomTicks, yTickLabels: fomTickLabels, yTitle: 'FOM',
  yWidth: 67, padRight: 33, yTitlePad: 1, shade: shadeC,
  legend: null, label: 'c)', labelX: 3
});
</script>
</body></html>
